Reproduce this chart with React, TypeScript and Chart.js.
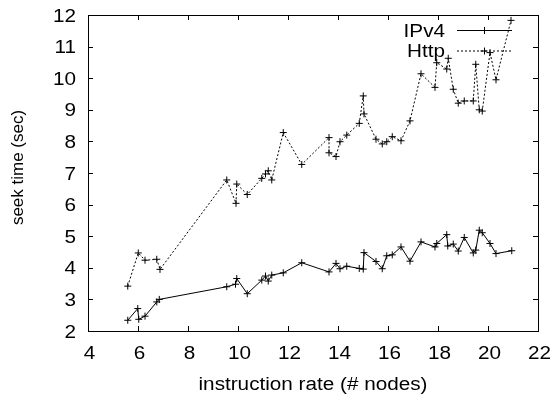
import React, { useEffect, useRef } from "react";
import { Chart, registerables } from "chart.js";

Chart.register(...registerables);

const ipv4X = [5.59, 5.99, 6.03, 6.28, 6.75, 6.85, 9.55, 9.9, 9.95, 10.37, 10.95, 11.1, 11.21, 11.35, 11.81, 12.55, 13.64, 13.92, 14.08, 14.35, 14.85, 15.01, 15.04, 15.52, 15.77, 15.95, 16.17, 16.52, 16.88, 17.32, 17.88, 17.95, 18.35, 18.39, 18.61, 18.81, 19.05, 19.41, 19.51, 19.65, 19.77, 20.08, 20.32, 20.95];
const ipv4Y = [2.34, 2.71, 2.37, 2.47, 2.92, 3.0, 3.4, 3.48, 3.66, 3.18, 3.61, 3.74, 3.58, 3.77, 3.84, 4.16, 3.87, 4.14, 3.97, 4.05, 3.98, 3.96, 4.48, 4.2, 3.97, 4.38, 4.41, 4.66, 4.21, 4.82, 4.66, 4.77, 5.05, 4.69, 4.75, 4.53, 4.96, 4.47, 4.56, 5.19, 5.11, 4.77, 4.45, 4.54];

const httpX = [5.59, 6.01, 6.28, 6.75, 6.88, 9.55, 9.92, 9.95, 10.37, 10.95, 11.1, 11.21, 11.35, 11.81, 12.55, 13.64, 13.64, 13.92, 14.08, 14.35, 14.85, 15.01, 15.04, 15.52, 15.77, 15.95, 16.17, 16.52, 16.88, 17.32, 17.88, 17.95, 18.35, 18.41, 18.61, 18.81, 19.05, 19.41, 19.51, 19.65, 19.77, 20.08, 20.32, 20.92];
const httpY = [3.42, 4.47, 4.24, 4.27, 3.95, 6.78, 6.04, 6.65, 6.32, 6.83, 6.97, 7.07, 6.78, 8.28, 7.27, 8.12, 7.64, 7.52, 7.99, 8.2, 8.57, 9.44, 8.87, 8.07, 7.92, 7.99, 8.15, 8.02, 8.65, 10.14, 9.71, 10.49, 10.29, 10.63, 9.65, 9.21, 9.28, 9.28, 10.44, 9.0, 8.96, 10.81, 9.95, 11.83];

const xTicks = [4, 6, 8, 10, 12, 14, 16, 18, 20, 22];
const yTicks = [2, 3, 4, 5, 6, 7, 8, 9, 10, 11, 12];
const seriesNames = ["IPv4", "Http"];
const xTitle = "instruction rate (# nodes)";
const yTitle = "seek time (sec)";

const FONT = "'Liberation Sans', Arial, Helvetica, sans-serif";
const SX = 1.15;

function stretchText(ctx: CanvasRenderingContext2D, text: string, x: number, y: number, align: CanvasTextAlign) {
  ctx.save();
  ctx.translate(x, y);
  ctx.scale(SX, 1);
  ctx.textAlign = align;
  ctx.textBaseline = "alphabetic";
  ctx.fillText(text, 0, 0);
  ctx.restore();
}

const framePlugin = {
  id: "gnuFrame",
  afterDraw(chart: any) {
    const { ctx, chartArea, scales } = chart;
    const { left, right, top, bottom } = chartArea;
    const x = scales.x;
    const y = scales.y;
    ctx.save();
    ctx.strokeStyle = "#000";
    ctx.fillStyle = "#000";
    ctx.lineWidth = 1;
    ctx.setLineDash([]);
    ctx.strokeRect(Math.round(left) + 0.5, Math.round(top) + 0.5, Math.round(right - left), Math.round(bottom - top));
    const tl = 5;
    ctx.beginPath();
    xTicks.forEach((v) => {
      const px = Math.round(x.getPixelForValue(v)) + 0.5;
      ctx.moveTo(px, bottom);
      ctx.lineTo(px, bottom - tl);
      ctx.moveTo(px, top);
      ctx.lineTo(px, top + tl);
    });
    yTicks.forEach((v) => {
      const py = Math.round(y.getPixelForValue(v)) + 0.5;
      ctx.moveTo(left, py);
      ctx.lineTo(left + tl, py);
      ctx.moveTo(right, py);
      ctx.lineTo(right - tl, py);
    });
    ctx.stroke();

    ctx.font = `18px ${FONT}`;
    // tick labels
    xTicks.forEach((v) => {
      stretchText(ctx, String(v), x.getPixelForValue(v) + 1.5, bottom + 27.5, "center");
    });
    yTicks.forEach((v) => {
      stretchText(ctx, String(v), left - 12, y.getPixelForValue(v) + 6.5, "right");
    });
    // axis titles
    stretchText(ctx, xTitle, (left + right) / 2, 390, "center");
    ctx.save();
    ctx.translate(18, 167.5);
    ctx.rotate(-Math.PI / 2);
    ctx.font = `17px ${FONT}`;
    ctx.textAlign = "center";
    ctx.textBaseline = "middle";
    ctx.fillText(yTitle, 0, 0);
    ctx.restore();

    // legend
    ctx.font = `18px ${FONT}`;
    const rows = [30, 50.5];
    const textRight = 445;
    const l0 = 457;
    const l1 = 512;
    const mk = 484;
    rows.forEach((ry, i) => {
      stretchText(ctx, seriesNames[i], textRight, ry + 6.5, "right");
      ctx.beginPath();
      ctx.setLineDash(i === 0 ? [] : [2, 2]);
      ctx.moveTo(l0, ry + 0.5);
      ctx.lineTo(l1, ry + 0.5);
      ctx.stroke();
      ctx.setLineDash([]);
      ctx.beginPath();
      ctx.moveTo(mk - 3.5, ry + 0.5);
      ctx.lineTo(mk + 3.5, ry + 0.5);
      ctx.moveTo(mk + 0.5, ry - 3);
      ctx.lineTo(mk + 0.5, ry + 4);
      ctx.stroke();
    });
    ctx.restore();
  },
};

export default function App() {
  const ref = useRef<HTMLCanvasElement>(null);
  useEffect(() => {
    if (!ref.current) return;
    const chart = new Chart(ref.current, {
      type: "line",
      data: {
        datasets: [
          {
            label: seriesNames[0],
            data: ipv4X.map((v, i) => ({ x: v, y: ipv4Y[i] })),
            borderColor: "#000",
            backgroundColor: "#000",
            borderWidth: 1,
            pointStyle: "cross",
            pointRadius: 3.5,
            pointBorderWidth: 1,
            pointBorderColor: "#000",
            tension: 0,
            fill: false,
          },
          {
            label: seriesNames[1],
            data: httpX.map((v, i) => ({ x: v, y: httpY[i] })),
            borderColor: "#000",
            backgroundColor: "#000",
            borderWidth: 1,
            borderDash: [2, 2],
            pointStyle: "cross",
            pointRadius: 3.5,
            pointBorderWidth: 1,
            pointBorderColor: "#000",
            tension: 0,
            fill: false,
          },
        ],
      },
      options: {
        animation: false,
        responsive: false,
        maintainAspectRatio: false,
        layout: { padding: { left: 0, top: 15, right: 18, bottom: 0 } },
        plugins: { legend: { display: false }, tooltip: { enabled: false } },
        scales: {
          x: {
            type: "linear",
            min: 4,
            max: 22,
            grid: { display: false, drawTicks: false },
            border: { display: false },
            afterBuildTicks: (s: any) => {
              s.ticks = xTicks.map((v) => ({ value: v }));
            },
            afterFit: (s: any) => {
              s.height = 63;
            },
            ticks: { display: false },
            title: { display: false },
          },
          y: {
            type: "linear",
            min: 2,
            max: 12,
            grid: { display: false, drawTicks: false },
            border: { display: false },
            afterBuildTicks: (s: any) => {
              s.ticks = yTicks.map((v) => ({ value: v }));
            },
            afterFit: (s: any) => {
              s.width = 88;
            },
            ticks: { display: false },
            title: { display: false },
          },
        },
      },
      plugins: [framePlugin],
    });
    return () => chart.destroy();
  }, []);
  return (
    <div style={{ position: "fixed", left: 0, top: 0, width: 556, height: 394, background: "#fff" }}>
      <canvas ref={ref} width={556} height={394} style={{ width: 556, height: 394, display: "block" }} />
    </div>
  );
}
